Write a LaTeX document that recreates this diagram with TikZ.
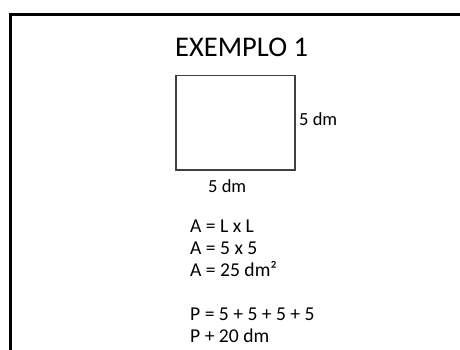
\documentclass[tikz,border=0pt]{standalone}
\usepackage{fontspec}
\setmainfont{Carlito}
\usetikzlibrary{positioning}

\begin{document}
\begin{tikzpicture}[x=1pt,y=-1pt,
  rotulo/.style={anchor=base west,inner sep=0pt,font=\fontsize{18.5}{22}\selectfont},
  conta/.style={anchor=base west,inner sep=0pt,font=\fontsize{19.6}{22}\selectfont}]
  \useasboundingbox (0,0) rectangle (460,350);
  \draw[line width=3pt] (10.5,352) -- (10.5,14.5) -- (462,14.5);
  \node[anchor=base west,inner sep=0pt,font=\fontsize{28.5}{34}\selectfont]
    (titulo) at (175,57) {EXEMPLO 1};
  \node[draw=black!75,line width=1.5pt,minimum width=119pt,minimum height=94pt,
    anchor=north west,inner sep=0pt] (quadrado) at (175,75) {};
  \node[rotulo] (ladoDir) at (299,125) {5 dm};
  \node[rotulo] (ladoBaixo) at (208,192) {5 dm};
  \node[conta] (area1) at (190,232) {A = L x L};
  \node[conta] (area2) at (190,254) {A = 5 x 5};
  \node[conta] (area3) at (190,276) {A = 25 dm²};
  \node[conta] (per1) at (190,320.5) {P = 5 + 5 + 5 + 5};
  \node[conta] (per2) at (190,342.5) {P + 20 dm};
\end{tikzpicture}
\end{document}
